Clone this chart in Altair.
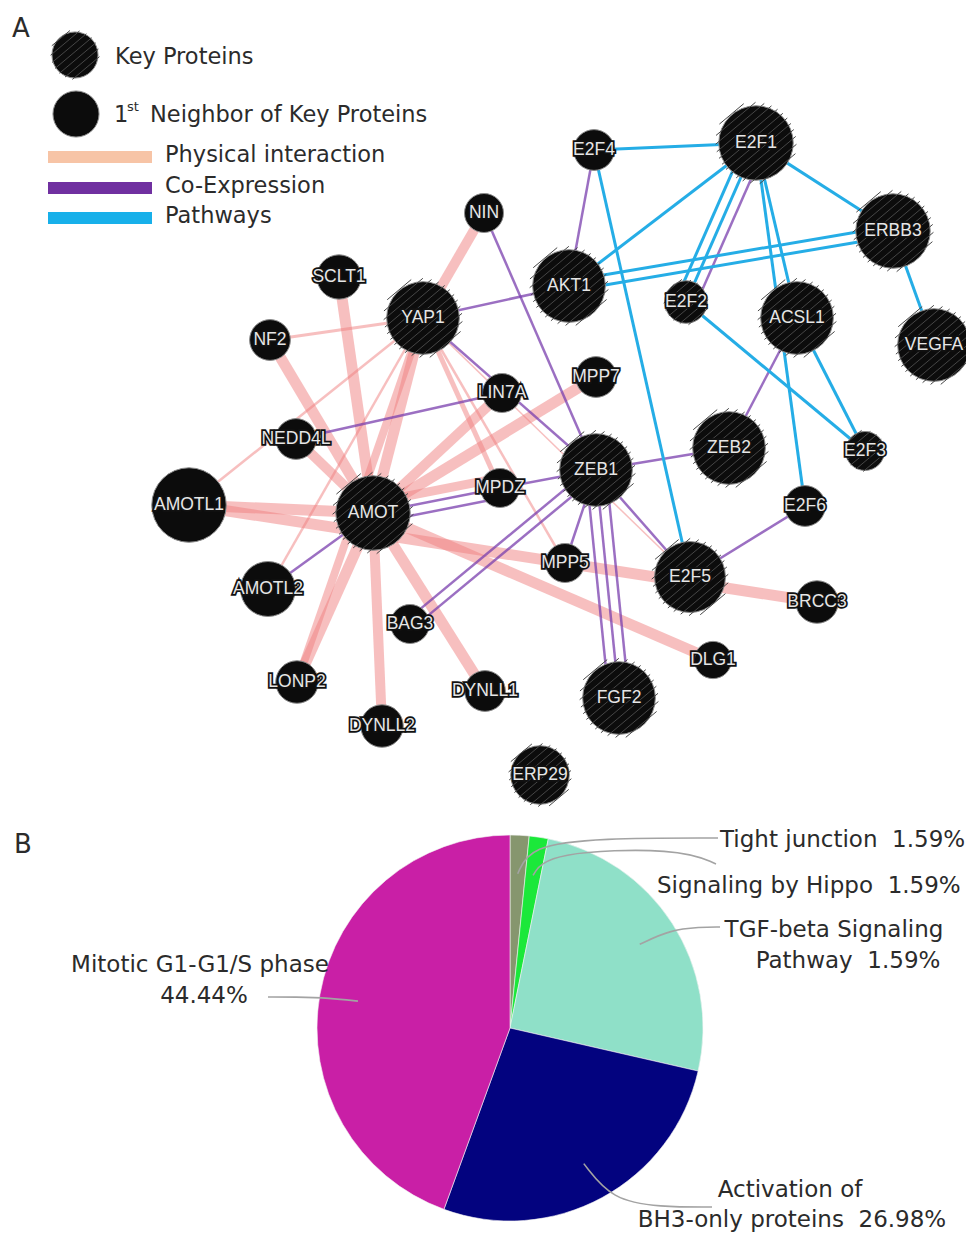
import math
from collections import defaultdict
import altair as alt
import pandas as pd

# ---------------- Panel A: protein network ----------------
node_names = ["E2F4", "E2F1", "ERBB3", "NIN", "AKT1", "E2F2", "ACSL1", "VEGFA",
              "SCLT1", "YAP1", "NF2", "LIN7A", "MPP7", "NEDD4L", "ZEB2", "E2F3",
              "ZEB1", "AMOTL1", "AMOT", "MPDZ", "E2F6", "MPP5", "E2F5", "AMOTL2",
              "BRCC3", "BAG3", "DLG1", "LONP2", "DYNLL1", "FGF2", "DYNLL2", "ERP29"]
node_x = [594, 756, 893, 484, 569, 686, 797, 934,
          339, 423, 270, 502, 596, 296, 729, 865,
          596, 189, 373, 500, 805, 565, 690, 268,
          817, 410, 713, 297, 485, 619, 382, 540]
node_y = [150, 143, 231, 213, 286, 302, 318, 345,
          277, 318, 340, 393, 377, 439, 448, 451,
          470, 505, 513, 488, 506, 563, 577, 589,
          602, 624, 660, 682, 691, 698, 726, 775]
node_r = [23, 42, 42, 22, 41, 24, 41, 41,
          25, 41, 23, 22, 23, 23, 41, 22,
          41, 42, 42, 22, 23, 22, 40, 31,
          24, 22, 21, 24, 23, 41, 24, 33]
node_key = [0, 1, 1, 0, 1, 1, 1, 1,
            0, 1, 0, 0, 0, 0, 1, 1,
            1, 0, 1, 0, 0, 0, 1, 0,
            0, 0, 0, 0, 0, 1, 0, 1]

edge_types = ["Physical interaction", "Co-Expression", "Pathways"]
edge_src = [
    # physical interactions
    "YAP1", "YAP1", "YAP1", "YAP1", "YAP1", "YAP1", "YAP1", "YAP1", "YAP1",
    "SCLT1", "NF2", "NEDD4L", "AMOTL1", "AMOTL1", "AMOT", "AMOT", "AMOT",
    "AMOT", "AMOT", "AMOT", "AMOT",
    # co-expression
    "E2F4", "E2F1", "ACSL1", "ZEB1", "NIN", "YAP1", "YAP1", "NEDD4L",
    "AMOT", "AMOT", "MPDZ", "AMOTL2", "BAG3", "BAG3", "MPP5",
    "FGF2", "FGF2", "FGF2", "ZEB1", "E2F5",
    # pathways
    "E2F4", "E2F4", "E2F1", "E2F1", "E2F1", "E2F1", "E2F1", "AKT1", "AKT1",
    "ERBB3", "E2F2", "ACSL1", "E2F1"]
edge_dst = [
    "NIN", "NF2", "AMOTL1", "AMOTL2", "AMOT", "LONP2", "MPDZ", "MPP5", "E2F5",
    "AMOT", "AMOT", "AMOT", "AMOT", "BRCC3", "LIN7A", "MPP7", "MPDZ",
    "DLG1", "LONP2", "DYNLL2", "DYNLL1",
    "AKT1", "E2F2", "ZEB2", "ZEB2", "ZEB1", "AKT1", "ZEB1", "LIN7A",
    "MPDZ", "MPDZ", "ZEB1", "AMOT", "ZEB1", "ZEB1", "ZEB1",
    "ZEB1", "ZEB1", "ZEB1", "E2F5", "E2F6",
    "E2F1", "E2F5", "AKT1", "E2F2", "ACSL1", "E2F6", "ERBB3", "ERBB3", "ERBB3",
    "VEGFA", "E2F3", "E2F3", "E2F2"]
edge_type = (["Physical interaction"] * 21 + ["Co-Expression"] * 20 + ["Pathways"] * 13)
edge_weight = [10, 3, 2.5, 2.5, 11, 8, 5, 2.5, 1.5,
               11, 11, 10, 11, 11, 10, 11, 9,
               11, 11, 10, 11,
               2.5, 2.5, 2.5, 2.5, 2.5, 2.5, 2.5, 2.5,
               2.5, 2.5, 2.5, 2.5, 2.5, 2.5, 2.5,
               2.5, 2.5, 2.5, 2.5, 2.5,
               3, 3, 3, 3, 3, 3, 3, 3, 3, 3, 3, 3, 3]

legend_labels = ["Key Proteins", "Neighbor of Key Proteins"]
legend_edge_labels = ["Physical interaction", "Co-Expression", "Pathways"]

# ---------------- Panel B: pathway pie ----------------
pie_labels = ["Tight junction", "Signaling by Hippo", "TGF-beta Signaling Pathway",
              "Activation of BH3-only proteins", "Mitotic G1-G1/S phase"]
pie_values = [1.59, 1.59, 25.40, 26.98, 44.44]
pie_text_lines = [["Tight junction\u00a0 1.59%"],
                  ["Signaling by Hippo\u00a0 1.59%"],
                  ["TGF-beta Signaling", "Pathway\u00a0 1.59%"],
                  ["Activation of", "BH3-only proteins\u00a0 26.98%"],
                  ["Mitotic G1-G1/S phase", "44.44%"]]

# ---------------- styles & layout ----------------
EDGE_COLORS = ["#f07f7f", "#7a3fae", "#25ade6"]
EDGE_OPACITY = [0.5, 1.0, 1.0]
LEGEND_COLORS = ["#f7c4a6", "#7030a0", "#17b0ea"]
PIE_COLORS = ["#86966e", "#1be83a", "#8fe0c8", "#03037f", "#c91fa6"]
TXT = "#2b2b2b"
FONT = "DejaVu Sans"
NODE_FONT = "Liberation Sans"
PAR_GAP = 10
HATCH_ANGLE = math.radians(40)
HATCH_STEP = 6.5

PIE_CX, PIE_CY, PIE_R = 510, 1028, 193
pie_label_pos = [[(720, 840, "left")],
                 [(657, 886, "left")],
                 [(834, 930, "center"), (848, 961, "center")],
                 [(790, 1190, "center"), (792, 1220, "center")],
                 [(200, 965, "center"), (204, 996, "center")]]
leader_via = [[(530, 846), (600, 838), (718, 838)],
              [(548, 852), (680, 848), (716, 864)],
              [(670, 930), (700, 927), (720, 927)],
              [(612, 1200), (660, 1207), (712, 1207)],
              [(330, 998), (295, 997), (268, 997)]]

legend_circles = [(75, 55, 26, 1), (76, 114, 26, 0)]
legend_bar_y = [157, 188, 218]
legend_bar_x = (48, 152)

W, H = 958, 1226
XS = alt.Scale(domain=[8, 8 + W], nice=False, zero=False)
YS = alt.Scale(domain=[8, 8 + H], nice=False, zero=False, reverse=True)


def X(f):
    return alt.X(f, type="quantitative", scale=XS, axis=None)


def Y(f):
    return alt.Y(f, type="quantitative", scale=YS, axis=None)


# ---- edges with parallel offsets for repeated pairs ----
pos = {n: (x, y) for n, x, y in zip(node_names, node_x, node_y)}
groups = defaultdict(list)
for i, (s, d) in enumerate(zip(edge_src, edge_dst)):
    groups[tuple(sorted((s, d)))].append(i)
edge_rows = []
for (a, b), idxs in groups.items():
    (xa, ya), (xb, yb) = pos[a], pos[b]
    L = math.hypot(xb - xa, yb - ya)
    nx, ny = -(yb - ya) / L, (xb - xa) / L
    n = len(idxs)
    for k, i in enumerate(idxs):
        off = (k - (n - 1) / 2) * PAR_GAP
        edge_rows.append(dict(x=xa + nx * off, y=ya + ny * off,
                              x2=xb + nx * off, y2=yb + ny * off,
                              type=edge_type[i], w=edge_weight[i],
                              t=edge_types.index(edge_type[i])))
edges_df = pd.DataFrame(edge_rows).sort_values("t", kind="stable")

nodes_df = pd.DataFrame(dict(name=node_names, x=node_x, y=node_y, r=node_r, key=node_key))
circ_df = pd.concat([nodes_df[["x", "y", "r", "key"]],
                     pd.DataFrame(legend_circles, columns=["x", "y", "r", "key"])],
                    ignore_index=True)
circ_df["area"] = math.pi * circ_df["r"] ** 2

# hatching for key proteins
ux, uy = math.cos(HATCH_ANGLE), -math.sin(HATCH_ANGLE)
vx, vy = math.sin(HATCH_ANGLE), math.cos(HATCH_ANGLE)
hatch = []
for _, row in circ_df[circ_df["key"] == 1].iterrows():
    r = row["r"]
    k = 0
    while True:
        d = -r + 4 + k * HATCH_STEP
        if d > r - 3:
            break
        h = math.sqrt(max(r * r - d * d, 0)) - 2
        px, py = row["x"] + d * vx, row["y"] + d * vy
        hatch.append(dict(x=px - h * ux, y=py - h * uy, x2=px + h * ux, y2=py + h * uy))
        k += 1
hatch_df = pd.DataFrame(hatch)

edge_layer = alt.Chart(edges_df).mark_rule(strokeCap="butt").encode(
    x=X("x"), y=Y("y"), x2="x2:Q", y2="y2:Q",
    strokeWidth=alt.StrokeWidth("w:Q", scale=None),
    color=alt.Color("type:N", scale=alt.Scale(domain=edge_types, range=EDGE_COLORS), legend=None),
    opacity=alt.Opacity("type:N", scale=alt.Scale(domain=edge_types, range=EDGE_OPACITY), legend=None),
)

node_layer = alt.Chart(circ_df).mark_circle(fill="#0c0c0c", stroke="#8c8c8c", strokeWidth=1, opacity=1).encode(
    x=X("x"), y=Y("y"), size=alt.Size("area:Q", scale=None))

hatch_layer = alt.Chart(hatch_df).mark_rule(color="#464646", strokeWidth=1).encode(
    x=X("x"), y=Y("y"), x2="x2:Q", y2="y2:Q")

label_halo = alt.Chart(nodes_df).mark_text(font=NODE_FONT, fontSize=17.5, fill="#111111",
                                           stroke="#111111", strokeWidth=3.5).encode(
    x=X("x"), y=Y("y"), text="name:N")
label_layer = alt.Chart(nodes_df).mark_text(font=NODE_FONT, fontSize=17.5, fill="#e6e6e6").encode(
    x=X("x"), y=Y("y"), text="name:N")

# legend
leg_bar_df = pd.DataFrame(dict(x=[legend_bar_x[0]] * 3, x2=[legend_bar_x[1]] * 3, y=legend_bar_y,
                               kind=legend_edge_labels))
leg_bar_layer = alt.Chart(leg_bar_df).mark_rule(strokeWidth=12, strokeCap="butt").encode(
    x=X("x"), x2="x2:Q", y=Y("y"),
    stroke=alt.Stroke("kind:N", scale=alt.Scale(domain=legend_edge_labels, range=LEGEND_COLORS), legend=None))

text_rows = [
    dict(x=12, y=29, t="A", fs=26, al="left"),
    dict(x=14, y=845, t="B", fs=26, al="left"),
    dict(x=115, y=57, t=legend_labels[0], fs=22.5, al="left"),
    dict(x=114, y=115, t="1", fs=22.5, al="left"),
    dict(x=127, y=107, t="st", fs=13, al="left"),
    dict(x=150, y=115, t=legend_labels[1], fs=22.5, al="left"),
]
for lab, yy in zip(legend_edge_labels, legend_bar_y):
    text_rows.append(dict(x=165, y=yy - 2, t=lab, fs=22.5, al="left"))

# pie
pie_df = pd.DataFrame(dict(label=pie_labels, value=pie_values, idx=list(range(len(pie_labels)))))
pie_layer = alt.Chart(pie_df).mark_arc(outerRadius=PIE_R, stroke="#f4f4f4", strokeWidth=0.6).encode(
    theta=alt.Theta("value:Q", stack=True),
    fill=alt.Fill("label:N", scale=alt.Scale(domain=pie_labels, range=PIE_COLORS), legend=None),
    order=alt.Order("idx:Q"),
    x=alt.XDatum(PIE_CX, type="quantitative", scale=XS, axis=None),
    y=alt.YDatum(PIE_CY, type="quantitative", scale=YS, axis=None),
)

total = sum(pie_values)
cum = 0.0
leader_rows = []
for i, v in enumerate(pie_values):
    mid = (cum + v / 2) / total * 2 * math.pi
    cum += v
    ax = PIE_CX + 0.8 * PIE_R * math.sin(mid)
    ay = PIE_CY - 0.8 * PIE_R * math.cos(mid)
    pts = [(ax, ay)] + leader_via[i]
    for j, (px, py) in enumerate(pts):
        leader_rows.append(dict(lid=i, pi=j, x=px, y=py))
    for line, (lx, ly, al) in zip(pie_text_lines[i], pie_label_pos[i]):
        text_rows.append(dict(x=lx, y=ly, t=line, fs=23, al=al))
leader_df = pd.DataFrame(leader_rows)
leader_layer = alt.Chart(leader_df).mark_line(color="#a3a3a3", strokeWidth=1.6, interpolate="basis").encode(
    x=X("x"), y=Y("y"), detail="lid:N", order="pi:Q")

text_df = pd.DataFrame(text_rows)
text_layers = []
for al in ["left", "center"]:
    sub = text_df[text_df["al"] == al]
    text_layers.append(alt.Chart(sub).mark_text(font=FONT, color=TXT, align=al, baseline="middle").encode(
        x=X("x"), y=Y("y"), text="t:N", size=alt.Size("fs:Q", scale=None)))

chart = alt.layer(
    edge_layer, node_layer, hatch_layer, label_halo, label_layer,
    leg_bar_layer, pie_layer, leader_layer, *text_layers
).properties(
    width=W, height=H, autosize=alt.AutoSizeParams(type="none"), padding=0
).configure_view(stroke=None)

chart.save("out.html", embed_options={"renderer": "svg", "actions": False})
